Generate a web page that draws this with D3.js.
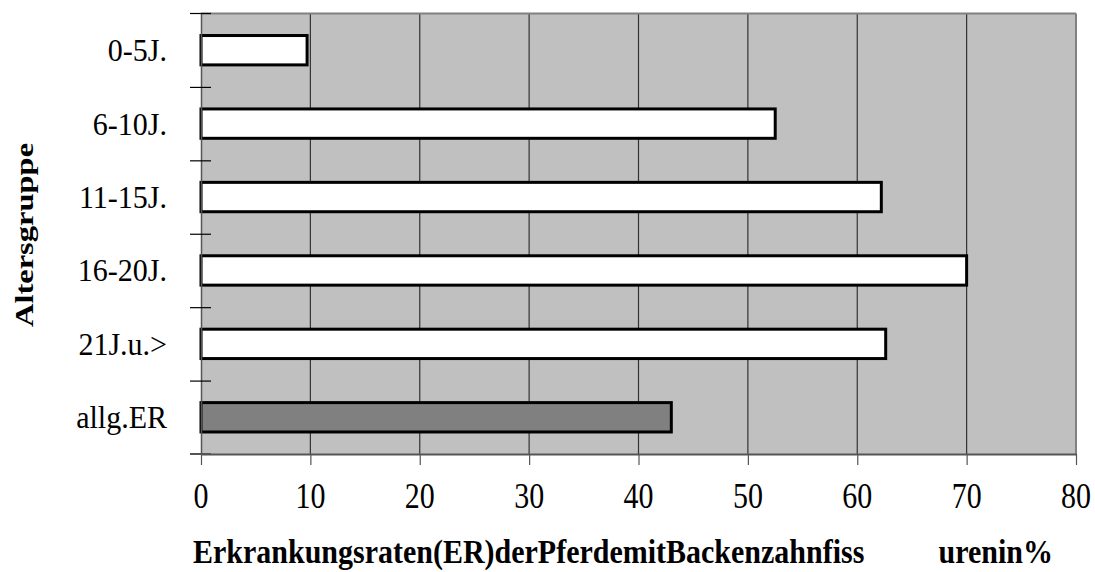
<!DOCTYPE html>
<html>
<head>
<meta charset="utf-8">
<script src="https://cdn.jsdelivr.net/npm/d3@7"></script>
<style>
  html, body { margin: 0; padding: 0; background: #ffffff; }
  svg { display: block; }
  text { font-family: "Liberation Serif", "Times New Roman", serif; fill: #000; }
</style>
</head>
<body>
<svg id="chart" width="1095" height="572"></svg>
<script>
// Age groups and disease rates (%) of horses with molar fissures
const categories = ["0-5J.", "6-10J.", "11-15J.", "16-20J.", "21J.u.>", "allg.ER"];
const rates = [9.7, 52.5, 62.2, 70.0, 62.6, 43.0];
const xTicks = [0, 10, 20, 30, 40, 50, 60, 70, 80];
const xTitleParts = ["Erkrankungsraten(ER)derPferdemitBackenzahnfiss", "urenin%"];
const yTitle = "Altersgruppe";

const svg = d3.select("#chart");
const plotLeft = 201, plotRight = 1076, plotTop = 13.5, plotBottom = 454;

const x = d3.scaleLinear().domain([0, 80]).range([plotLeft, plotRight]);
const y = d3.scaleBand().domain(categories).range([plotTop, plotBottom])
  .paddingInner(0.6).paddingOuter(0.3);

// plot background
svg.append("rect")
  .attr("x", plotLeft).attr("y", plotTop)
  .attr("width", plotRight - plotLeft).attr("height", plotBottom - plotTop)
  .attr("fill", "#c0c0c0");

// vertical gridlines
svg.append("g").selectAll("line")
  .data(xTicks.filter(d => d > 0 && d < 80))
  .join("line")
  .attr("x1", d => x(d)).attr("x2", d => x(d))
  .attr("y1", plotTop).attr("y2", plotBottom)
  .attr("stroke", "#333").attr("stroke-width", 1.2);

// frame: top and right edges
svg.append("line").attr("x1", plotLeft).attr("x2", plotRight).attr("y1", plotTop).attr("y2", plotTop)
  .attr("stroke", "#808080").attr("stroke-width", 2);
svg.append("line").attr("x1", plotRight).attr("x2", plotRight).attr("y1", plotTop).attr("y2", plotBottom)
  .attr("stroke", "#808080").attr("stroke-width", 2);

// bars
svg.append("g").selectAll("rect")
  .data(categories.map((c, i) => ({ c, v: rates[i], i })))
  .join("rect")
  .attr("x", x(0))
  .attr("y", d => y(d.c))
  .attr("width", d => x(d.v) - x(0))
  .attr("height", y.bandwidth())
  .attr("fill", d => d.i === categories.length - 1 ? "#808080" : "#ffffff")
  .attr("stroke", "#000").attr("stroke-width", 3);

// x axis
const xAxis = svg.append("g")
  .attr("transform", `translate(0,${plotBottom})`)
  .call(d3.axisBottom(x).tickValues(xTicks).tickSizeInner(11).tickSizeOuter(0).tickFormat(""));
xAxis.select(".domain").attr("stroke", "#555").attr("stroke-width", 2);
xAxis.selectAll(".tick line").attr("stroke", "#555").attr("stroke-width", 1.2);

svg.append("g").selectAll("g")
  .data(xTicks)
  .join("g")
  .attr("transform", d => `translate(${x(d)},508) scale(1,1.2)`)
  .append("text")
  .attr("text-anchor", "middle")
  .attr("font-size", 30)
  .text(d => d);

// y axis: line plus ticks at band boundaries
const yPos = d3.scaleLinear().domain([0, categories.length]).range([plotTop, plotBottom]);
const yAxis = svg.append("g")
  .attr("transform", `translate(${plotLeft},0)`)
  .call(d3.axisLeft(yPos).tickValues(d3.range(1, categories.length)).tickSizeInner(11).tickSizeOuter(0).tickFormat(""));
yAxis.select(".domain").attr("stroke", "#555").attr("stroke-width", 1.5);
yAxis.selectAll(".tick line").attr("x1", 10).attr("x2", -11).attr("stroke", "#000").attr("stroke-width", 1.2);
// ticks at the top and bottom corners
svg.append("line").attr("x1", 190).attr("x2", plotLeft + 10).attr("y1", plotTop).attr("y2", plotTop)
  .attr("stroke", "#000").attr("stroke-width", 1.2);
svg.append("line").attr("x1", 190).attr("x2", plotLeft + 10).attr("y1", plotBottom).attr("y2", plotBottom)
  .attr("stroke", "#555").attr("stroke-width", 2);

// category labels
svg.append("g").selectAll("g")
  .data(categories)
  .join("g")
  .attr("transform", d => `translate(167,${y(d) + y.bandwidth() / 2 + 11}) scale(1,1.05)`)
  .append("text")
  .attr("text-anchor", "end")
  .attr("font-size", 30)
  .text(d => d);

// x axis title, in two pieces
const xt = svg.append("g").attr("font-size", 30).attr("font-weight", "bold");
xt.append("g").attr("transform", "translate(193,563) scale(1,1.15)")
  .append("text").text(xTitleParts[0]);
xt.append("g").attr("transform", "translate(1053,563) scale(1,1.15)")
  .append("text").attr("text-anchor", "end").text(xTitleParts[1]);

// y axis title
svg.append("g")
  .attr("transform", `translate(33,235) rotate(-90) scale(1.3,1)`)
  .append("text")
  .attr("text-anchor", "middle")
  .attr("font-size", 25).attr("font-weight", "bold")
  .text(yTitle);
</script>
</body>
</html>
